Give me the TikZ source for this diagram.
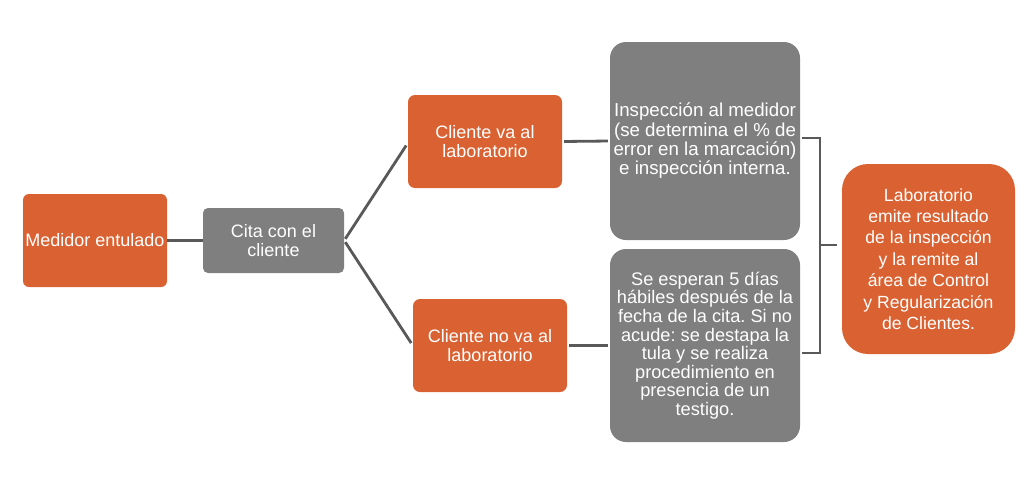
\documentclass[tikz,border=0pt]{standalone}
\usepackage{fontspec}
\setmainfont{Liberation Sans}
\definecolor{orng}{RGB}{218,98,50}
\definecolor{gbox}{RGB}{127,127,127}
\definecolor{lin}{RGB}{89,89,89}
\begin{document}
\frenchspacing
\begin{tikzpicture}[x=1pt,y=-1pt,
  box/.style={draw=none,align=center,text=white,inner sep=0pt,
    font=\fontsize{18}{18.4}\selectfont},
  obox/.style={box,fill=orng},
  gbx/.style={box,fill=gbox},
  conn/.style={draw=lin,line width=2.8pt}]
\useasboundingbox (0,0) rectangle (1032,498);
\node[obox,minimum width=144pt,minimum height=93pt,rounded corners=6pt] (med) at (95,240.5) {Medidor entulado};
\node[gbx,minimum width=141pt,minimum height=65pt,rounded corners=5pt] (cita) at (273.5,240.5) {Cita con el\\cliente};
\node[obox,minimum width=154pt,minimum height=93pt,rounded corners=7pt] (va) at (485,141.5) {Cliente va al\\laboratorio};
\node[obox,minimum width=154pt,minimum height=93pt,rounded corners=7pt] (nova) at (490,345.5) {Cliente no va al\\laboratorio};
\node[gbx,minimum width=190pt,minimum height=198pt,rounded corners=16pt,font=\fontsize{18.7}{19.3}\selectfont] (insp) at (705,141) {Inspección al medidor\\(se determina el \% de\\error en la marcación)\\e inspección interna.};
\node[gbx,minimum width=190pt,minimum height=193pt,rounded corners=16pt,font=\fontsize{18.2}{18.6}\selectfont] (esp) at (705,345.5) {Se esperan 5 días\\hábiles después de la\\fecha de la cita. Si no\\acude: se destapa la\\tula y se realiza\\procedimiento en\\presencia de un\\testigo.};
\node[obox,minimum width=173pt,minimum height=190pt,rounded corners=26pt,font=\fontsize{17.6}{21.4}\selectfont] (fin) at (928.5,259) {Laboratorio\\emite resultado\\de la inspección\\y la remite al\\área de Control\\y Regularización\\de Clientes.};
\coordinate (bx) at (820,245);
\draw[conn] (med) -- (cita);
\draw[conn,shorten <=2pt,shorten >=3pt] (cita.east) -- ([yshift=-1.5pt]va.west);
\draw[conn,shorten <=2pt,shorten >=3pt] (cita.east) -- (nova.west);
\draw[conn,shorten <=2pt,shorten >=2pt] (va.east) -- (insp.west);
\draw[conn,shorten <=2pt,shorten >=2pt] (nova.east) -- (nova.east -| esp.west);
\draw[conn] ([xshift=2pt,yshift=3pt]insp.east) -| (bx) |- ([xshift=2pt,yshift=-7.5pt]esp.east);
\draw[conn,shorten >=5pt] (bx) -- (bx -| fin.west);
\end{tikzpicture}
\end{document}
